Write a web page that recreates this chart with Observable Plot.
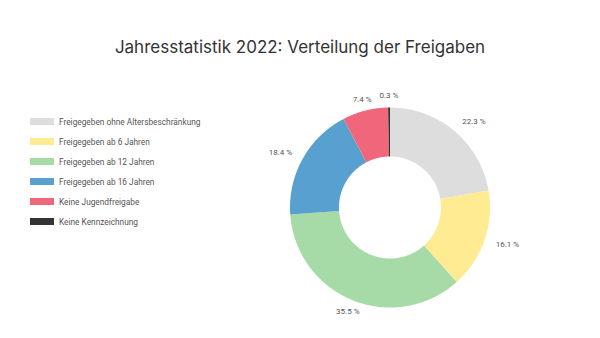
<!DOCTYPE html>
<html>
<head>
<meta charset="utf-8">
<script src="https://cdn.jsdelivr.net/npm/d3@7"></script>
<script src="https://cdn.jsdelivr.net/npm/@observablehq/plot@0.6"></script>
<style>
  html, body { margin: 0; padding: 0; background: #fff; }
  #wrap { position: relative; width: 600px; height: 338px; font-family: Inter, "Noto Sans", sans-serif; }
  #title { position: absolute; left: 0; top: 37px; width: 600px; text-align: center; font-size: 17px; color: #333; font-weight: 400; }
  #legend { position: absolute; left: 30px; top: 111.5px; font-family: Roboto, "Noto Sans", sans-serif; }
  .row { display: flex; align-items: center; height: 20px; font-size: 8.3px; color: #555; }
  .sw { width: 24px; height: 7px; margin-right: 5px; }
  #chart { position: absolute; left: 0; top: 0; }
</style>
</head>
<body>
<div id="wrap">
  <div id="chart"></div>
  <div id="title"></div>
  <div id="legend"></div>
</div>
<script>
const title = "Jahresstatistik 2022: Verteilung der Freigaben";
const categories = ["Freigegeben ohne Altersbeschränkung", "Freigegeben ab 6 Jahren", "Freigegeben ab 12 Jahren", "Freigegeben ab 16 Jahren", "Keine Jugendfreigabe", "Keine Kennzeichnung"];
const values = [22.3, 16.1, 35.5, 18.4, 7.4, 0.3];
const colors = ["#dddddd", "#ffeb91", "#a6dba8", "#57a0d0", "#f0667a", "#333333"];

document.getElementById("title").textContent = title;
const legend = document.getElementById("legend");
categories.forEach((c, i) => {
  const row = document.createElement("div");
  row.className = "row";
  const sw = document.createElement("div");
  sw.className = "sw";
  sw.style.background = colors[i];
  const t = document.createElement("span");
  t.textContent = c;
  row.append(sw, t);
  legend.append(row);
});

// Donut geometry in unit space (outer radius 1)
const R = 1, r0 = 0.51, rLabel = 1.12;
const pt = (rad, a) => [rad * Math.sin(a), -rad * Math.cos(a)];
const pie = d3.pie().sort(null).value(d => d.value)(categories.map((c, i) => ({cat: c, value: values[i], color: colors[i]})));

const slices = {
  type: "FeatureCollection",
  features: pie.map(p => {
    const n = Math.max(2, Math.ceil((p.endAngle - p.startAngle) / (Math.PI / 360)));
    const ring = [];
    for (let k = 0; k <= n; k++) ring.push(pt(R, p.startAngle + (p.endAngle - p.startAngle) * k / n));
    for (let k = n; k >= 0; k--) ring.push(pt(r0, p.startAngle + (p.endAngle - p.startAngle) * k / n));
    ring.push(ring[0]);
    return {type: "Feature", properties: {color: p.data.color, cat: p.data.cat}, geometry: {type: "Polygon", coordinates: [ring]}};
  })
};

const outline = {type: "Polygon", coordinates: [d3.range(0, 361, 2).map(a => pt(R, a * Math.PI / 180))]};

const labels = pie.map(p => {
  const a = (p.startAngle + p.endAngle) / 2;
  const [x, y] = pt(rLabel, a);
  const s = Math.sin(a);
  return {x, y, text: `${p.data.value} %`, anchor: s > 0.5 ? "start" : s < -0.5 ? "end" : "middle"};
});

const chart = Plot.plot({
  width: 600,
  height: 338,
  marginLeft: 289.5,
  marginRight: 110.5,
  marginTop: 107,
  marginBottom: 31,
  projection: {type: "identity", domain: outline, clip: false},
  style: {fontFamily: "Roboto, 'Noto Sans', sans-serif", background: "transparent"},
  marks: [
    Plot.geo(slices, {fill: d => d.properties.color, stroke: "none"}),
    ...["start", "middle", "end"].map(anc =>
      Plot.text(labels.filter(d => d.anchor === anc), {x: "x", y: "y", text: "text", textAnchor: anc, fontSize: 8, fill: "#555"})
    )
  ]
});
document.getElementById("chart").append(chart);
</script>
</body>
</html>
